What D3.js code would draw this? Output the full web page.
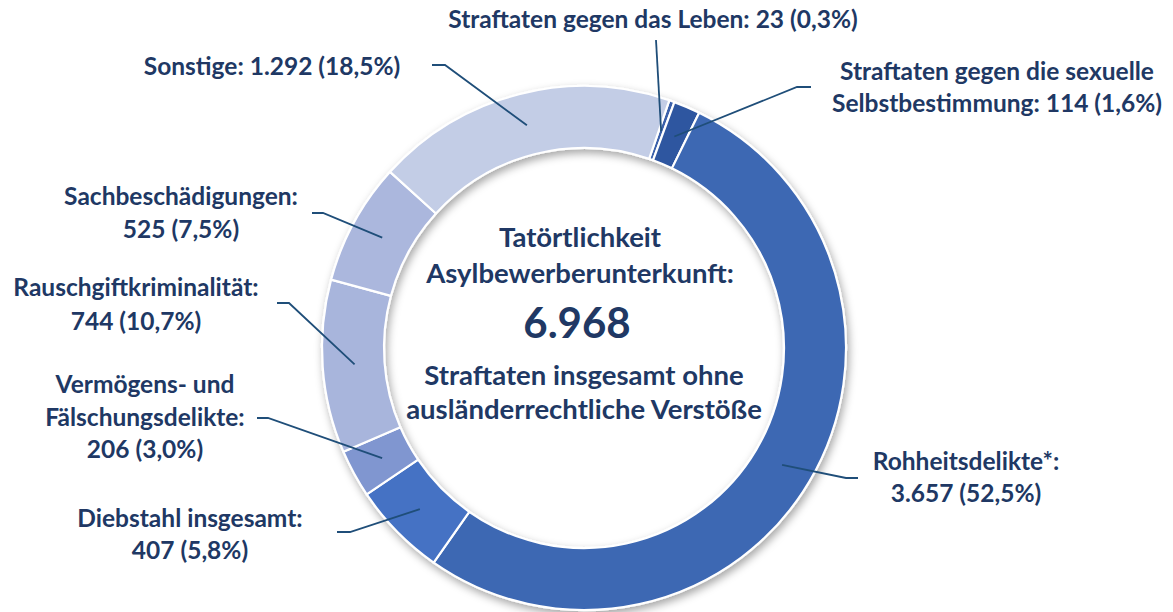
<!DOCTYPE html>
<html lang="de">
<head>
<meta charset="utf-8">
<script src="https://cdn.jsdelivr.net/npm/d3@7"></script>
<style>
  html, body { margin: 0; padding: 0; background: #ffffff; }
  svg { display: block; }
  text { font-family: Lato, "Open Sans", sans-serif; font-weight: 700; fill: #203864; }
</style>
</head>
<body>
<svg id="chart" width="1173" height="612"></svg>
<script>
// Straftaten am Tatort Asylbewerberunterkunft, nach Deliktsbereich
const categories = [
  "Straftaten gegen das Leben",
  "Straftaten gegen die sexuelle Selbstbestimmung",
  "Rohheitsdelikte*",
  "Diebstahl insgesamt",
  "Vermögens- und Fälschungsdelikte",
  "Rauschgiftkriminalität",
  "Sachbeschädigungen",
  "Sonstige"
];
const values = [23, 114, 3657, 407, 206, 744, 525, 1292];
const colors = ["#3a60aa", "#2f56a0", "#3d68b3", "#4472c4", "#8096d0", "#a8b5dc", "#abb7dd", "#c3cde6"];

const centerTitle = ["Tatörtlichkeit", "Asylbewerberunterkunft:"];
const centerFooter = ["Straftaten insgesamt ohne", "ausländerrechtliche Verstöße"];

// Label placement: text centre, baselines, word breaks and the elbow of the leader line
const labelLayout = [
  { cx: 653, ys: [28],           breaks: [],     from: [656, 40],  elbow: null },
  { cx: 997, ys: [80, 112],      breaks: [4],    from: [811, 87],  elbow: [797, 87] },
  { cx: 966, ys: [470, 502],     breaks: [1],    from: [858, 478], elbow: [846, 478] },
  { cx: 190, ys: [527, 559],     breaks: [2],    from: [337, 532], elbow: [350, 532] },
  { cx: 145, ys: [393, 426, 458], breaks: [2, 3], from: [257, 418], elbow: [268, 418] },
  { cx: 136, ys: [296, 330],     breaks: [1],    from: [277, 303], elbow: [289, 303] },
  { cx: 181, ys: [205, 238],     breaks: [1],    from: [312, 213], elbow: [323, 213] },
  { cx: 272, ys: [75],           breaks: [],     from: [432, 65],  elbow: [445, 65] }
];

const de = d3.formatLocale({ decimal: ",", thousands: ".", grouping: [3], currency: ["", " €"] });
const fmtInt = de.format(",.0f");
const fmtPct = de.format(".1%");

const total = d3.sum(values);
const data = categories.map((name, i) => ({ name, value: values[i], color: colors[i] }));

const svg = d3.select("#chart");
const cx = 584, cy = 348, rOuter = 262, rInner = 200, rLeader = 230;
const start = 19 * Math.PI / 180;

const defs = svg.append("defs");
const shadow = defs.append("filter").attr("id", "ringShadow")
  .attr("x", "-20%").attr("y", "-20%").attr("width", "140%").attr("height", "140%");
shadow.append("feDropShadow")
  .attr("dx", 2).attr("dy", 4).attr("stdDeviation", 4)
  .attr("flood-color", "#000").attr("flood-opacity", 0.35);

const pie = d3.pie().value(d => d.value).sort(null)
  .startAngle(start).endAngle(start + 2 * Math.PI);
const arcs = pie(data);

const arc = d3.arc().innerRadius(rInner).outerRadius(rOuter);
const leaderArc = d3.arc().innerRadius(rLeader).outerRadius(rLeader);

const g = svg.append("g").attr("transform", `translate(${cx},${cy})`);

g.append("g").attr("filter", "url(#ringShadow)")
  .selectAll("path")
  .data(arcs)
  .join("path")
  .attr("d", arc)
  .attr("fill", d => d.data.color)
  .attr("stroke", "#ffffff")
  .attr("stroke-width", 2.2)
  .attr("stroke-linejoin", "round");

// Leader lines from each label to the middle of its segment
const leaders = svg.append("g")
  .attr("fill", "none")
  .attr("stroke", "#1f4e79")
  .attr("stroke-width", 1.8);

arcs.forEach((a, i) => {
  const L = labelLayout[i];
  const c = leaderArc.centroid(a);
  const end = [cx + c[0], cy + c[1]];
  const pts = [L.from];
  if (L.elbow) pts.push(L.elbow);
  pts.push(end);
  leaders.append("path").attr("d", d3.line()(pts));
});

// Segment labels
const labels = svg.append("g").attr("font-size", 24.5).attr("text-anchor", "middle");
arcs.forEach((a, i) => {
  const L = labelLayout[i];
  const full = `${a.data.name}: ${fmtInt(a.data.value)} (${fmtPct(a.data.value / total)})`;
  const words = full.split(" ");
  const cuts = [0, ...L.breaks, words.length];
  const t = labels.append("text");
  for (let k = 0; k < cuts.length - 1; k++) {
    t.append("tspan")
      .attr("x", L.cx)
      .attr("y", L.ys[k])
      .text(words.slice(cuts[k], cuts[k + 1]).join(" "));
  }
});

// Centre text
const center = svg.append("g").attr("text-anchor", "middle");
center.append("text").attr("font-size", 27.5)
  .selectAll("tspan").data(centerTitle).join("tspan")
  .attr("x", 580).attr("y", (d, i) => 247 + i * 36).text(d => d);
center.append("text").attr("font-size", 42)
  .attr("x", 577).attr("y", 338).text(fmtInt(total));
center.append("text").attr("font-size", 27.5)
  .selectAll("tspan").data(centerFooter).join("tspan")
  .attr("x", 584).attr("y", (d, i) => 385 + i * 34).text(d => d);
</script>
</body>
</html>
